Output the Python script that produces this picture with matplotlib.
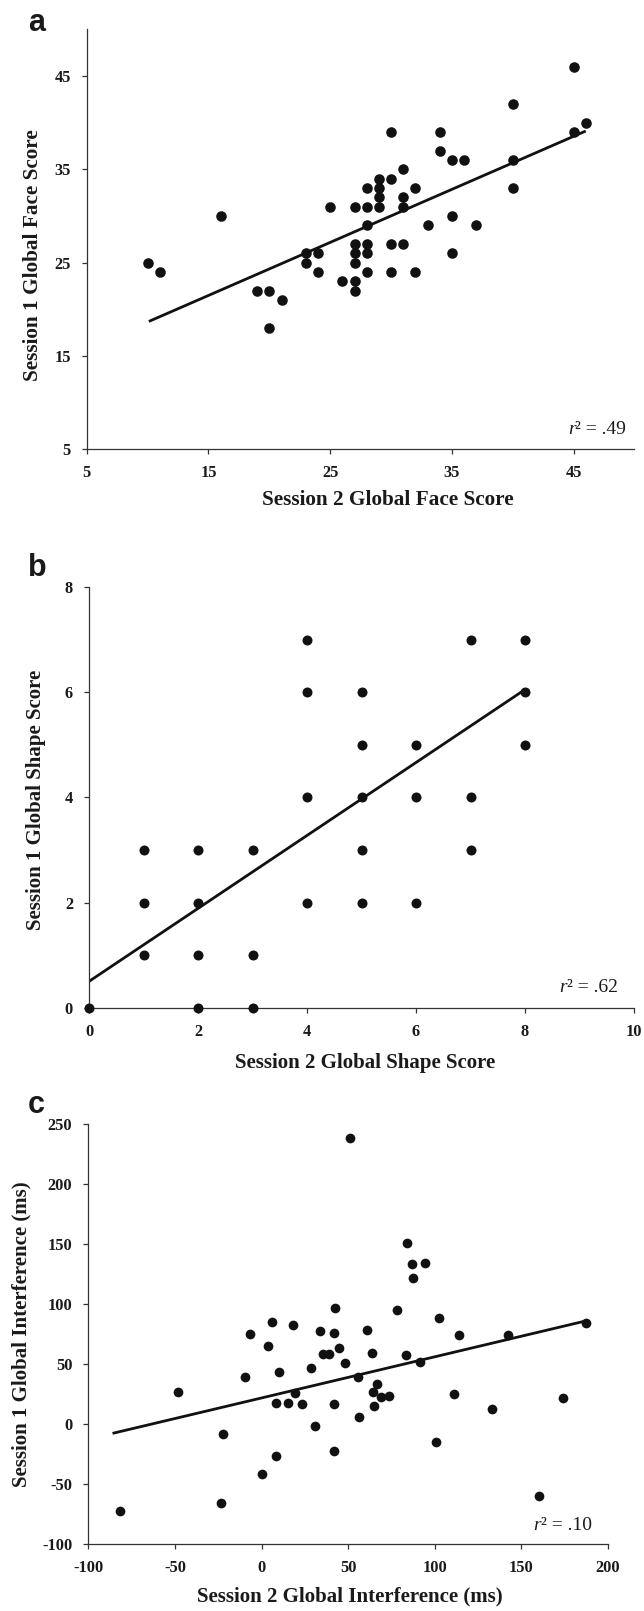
import matplotlib
matplotlib.use("Agg")
import matplotlib.pyplot as plt

plt.rcParams['font.family'] = ['Liberation Serif', 'DejaVu Serif']
plt.rcParams['axes.unicode_minus'] = False

# ---------------- data ----------------
# Panel a: Global Face Score
a_x = [10, 11, 16, 19, 20, 21, 20, 23, 23, 24, 24, 25, 26, 27, 27, 27, 27, 27, 27,
       28, 28, 28, 28, 28, 28, 29, 29, 29, 29, 30, 30, 30, 30, 31, 31, 31, 31,
       32, 32, 33, 34, 34, 35, 35, 35, 36, 37, 40, 40, 40, 45, 45, 46]
a_y = [25, 24, 30, 22, 22, 21, 18, 26, 25, 26, 24, 31, 23, 31, 27, 26, 25, 23, 22,
       33, 31, 29, 27, 26, 24, 34, 33, 32, 31, 39, 34, 27, 24, 35, 32, 31, 27,
       33, 24, 29, 39, 37, 36, 30, 26, 36, 29, 42, 36, 33, 46, 39, 40]
a_fit_x = [10.1, 46.0]
a_fit_y = [18.7, 39.1]
a_xticks = [5, 15, 25, 35, 45]
a_yticks = [5, 15, 25, 35, 45]
a_r2 = '.49'

# Panel b: Global Shape Score
b_x = [0, 1, 1, 1, 2, 2, 2, 2, 3, 3, 3, 4, 4, 4, 4, 5, 5, 5, 5, 5, 6, 6, 6, 7, 7, 7, 8, 8, 8]
b_y = [0, 3, 2, 1, 3, 2, 1, 0, 3, 1, 0, 7, 6, 4, 2, 6, 5, 4, 3, 2, 5, 4, 2, 7, 4, 3, 7, 6, 5]
b_fit_x = [0, 8]
b_fit_y = [0.5, 6.05]
b_xticks = [0, 2, 4, 6, 8, 10]
b_yticks = [0, 2, 4, 6, 8]
b_r2 = '.62'

# Panel c: Global Interference (ms)
c_x = [-81.7, -48.5, -23.5, -22.4, -9.3, -6.6, 0.0, 3.8, 6.1, 8.4, 8.6, 10.0, 15.0,
       17.9, 19.6, 23.3, 28.6, 30.9, 34.0, 35.4, 38.8, 41.9, 41.9, 42.1, 42.3, 45.0,
       48.1, 51.1, 55.7, 56.0, 60.8, 64.0, 64.6, 65.0, 66.9, 69.2, 73.4, 78.2, 83.4,
       84.0, 87.1, 87.7, 91.2, 94.1, 101.0, 102.5, 111.1, 114.0, 133.1, 142.1, 160.4,
       174.0, 187.1]
c_y = [-72.8, 27.0, -65.8, -8.5, 39.4, 75.0, -41.3, 64.7, 85.0, 17.5, -26.7, 43.1, 17.5,
       82.2, 25.6, 16.7, 46.9, -1.4, 77.8, 58.6, 58.6, 16.9, -22.8, 76.1, 96.7, 63.1,
       50.6, 238.5, 39.4, 5.6, 78.6, 59.2, 26.4, 15.0, 33.3, 22.8, 23.0, 94.7, 57.8,
       151.0, 133.1, 121.4, 51.4, 134.5, -15.0, 88.3, 25.0, 73.9, 12.5, 73.9, -60.3,
       21.7, 84.4]
c_fit_x = [-86.0, 186.0]
c_fit_y = [-7.8, 85.5]
c_xticks = [-100, -50, 0, 50, 100, 150, 200]
c_yticks = [-100, -50, 0, 50, 100, 150, 200, 250]
c_r2 = '.10'

# ---------------- layout ----------------
W, H = 644, 1611
fig = plt.figure(figsize=(W / 100, H / 100), dpi=100)
fig.patch.set_facecolor('white')
renderer = fig.canvas.get_renderer()

TXT = '#1a1a1a'
DOT = '#111111'


def add_ax(left, right, top, bottom):
    return fig.add_axes([left / W, 1 - bottom / H, (right - left) / W, (bottom - top) / H])


def ftext(x, y, s, **kw):
    return fig.text(x / W, 1 - y / H, s, **kw)


def style(ax, xlim, ylim, xt, yt):
    ax.set_xlim(*xlim)
    ax.set_ylim(*ylim)
    ax.set_xticks(xt)
    ax.set_yticks(yt)
    ax.set_xticklabels([str(v) for v in xt])
    ax.set_yticklabels([str(v) for v in yt])
    for s in ['top', 'right']:
        ax.spines[s].set_visible(False)
    for s in ['left', 'bottom']:
        ax.spines[s].set_color('#333333')
        ax.spines[s].set_linewidth(0.9)
    ax.tick_params(direction='out', length=3.5, width=0.9, color='#333333',
                   labelsize=11.8, pad=8, labelcolor=TXT)
    for lab in ax.get_xticklabels() + ax.get_yticklabels():
        lab.set_fontweight('bold')
    ax.patch.set_alpha(0)


def r2_label(r2, pos):
    t = ftext(pos[0], pos[1], '\u00b2 = ' + r2, ha='right', va='center',
              fontsize=14, color=TXT)
    bb = t.get_window_extent(renderer=renderer)
    fig.text(bb.x0 / W + 0.3 / W, 1 - pos[1] / H, 'r', ha='right', va='center',
             fontsize=14, style='italic', color=TXT)


def panel(ax, x, y, fx, fy, r2, r2_pos, ms):
    ax.plot(x, y, 'o', color=DOT, markersize=ms, markeredgewidth=0, zorder=3, clip_on=False)
    ax.plot(fx, fy, '-', color='#111111', linewidth=2.0, zorder=2, solid_capstyle='butt')
    r2_label(r2, r2_pos)


# Panel a
axa = add_ax(86.8, 634.4, 29.3, 449.3)
style(axa, (5, 50), (5, 50), a_xticks, a_yticks)
panel(axa, a_x, a_y, a_fit_x, a_fit_y, a_r2, (626, 429), 7.6)
ftext(388, 500, 'Session 2 Global Face Score', ha='center', va='center',
      fontsize=15.3, fontweight='bold', color=TXT)
ftext(33, 255, 'Session 1 Global Face Score', ha='center', va='center', rotation=90,
      fontsize=15.3, fontweight='bold', color=TXT)
ftext(28, 31, 'a', ha='left', va='baseline', fontsize=22, fontweight='bold',
      family='Liberation Sans', color=TXT)

# Panel b
axb = add_ax(89.0, 634.0, 587.0, 1007.7)
style(axb, (0, 10), (0, 8), b_xticks, b_yticks)
panel(axb, b_x, b_y, b_fit_x, b_fit_y, b_r2, (618, 988), 7.2)
ftext(365, 1063, 'Session 2 Global Shape Score', ha='center', va='center',
      fontsize=15, fontweight='bold', color=TXT)
ftext(36.5, 800, 'Session 1 Global Shape Score', ha='center', va='center', rotation=90,
      fontsize=15, fontweight='bold', color=TXT)
ftext(28, 576, 'b', ha='left', va='baseline', fontsize=22, fontweight='bold',
      family='Liberation Sans', color=TXT)

# Panel c
axc = add_ax(88.3, 608.0, 1124.0, 1544.0)
style(axc, (-100, 200), (-100, 250), c_xticks, c_yticks)
panel(axc, c_x, c_y, c_fit_x, c_fit_y, c_r2, (592, 1525), 7.0)
ftext(350, 1596, 'Session 2 Global Interference (ms)', ha='center', va='center',
      fontsize=15, fontweight='bold', color=TXT)
ftext(21, 1334, 'Session 1 Global Interference (ms)', ha='center', va='center', rotation=90,
      fontsize=15, fontweight='bold', color=TXT)
ftext(28, 1113, 'c', ha='left', va='baseline', fontsize=22, fontweight='bold',
      family='Liberation Sans', color=TXT)

fig.savefig('out.png', dpi=100, facecolor='white')
